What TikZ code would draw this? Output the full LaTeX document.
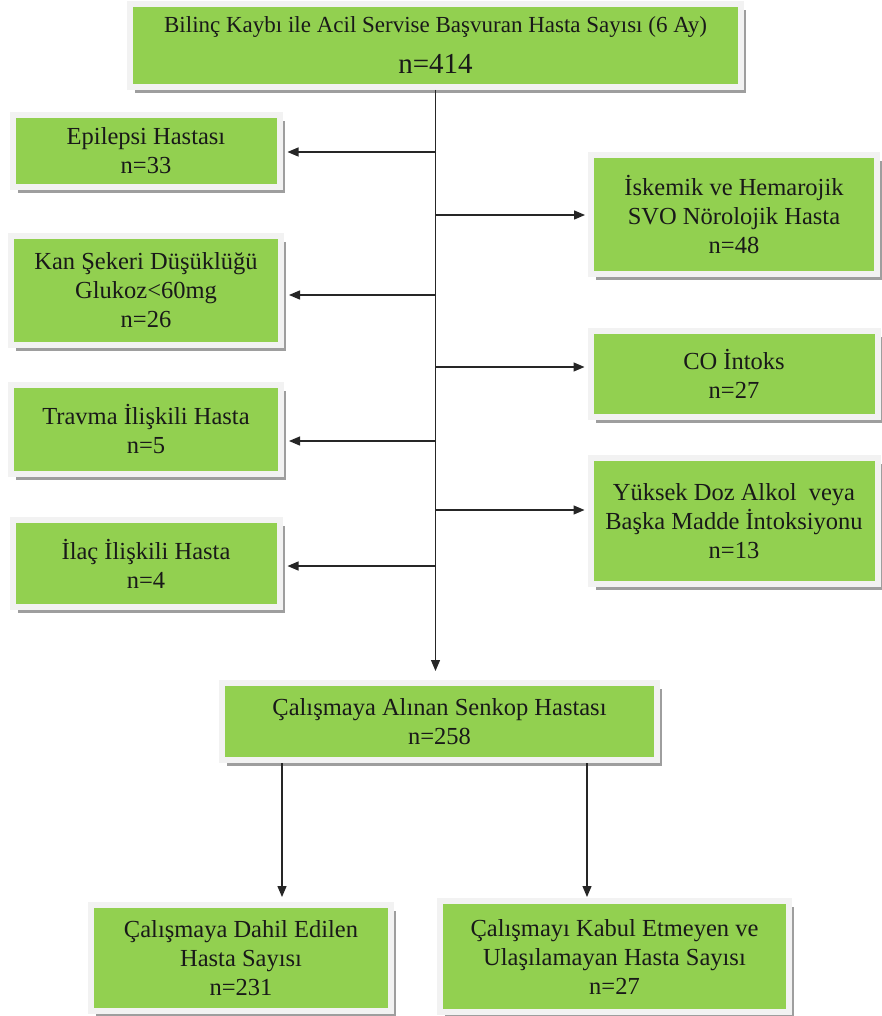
\documentclass[tikz,border=0pt]{standalone}
\usepackage{fontspec}
\setmainfont{Liberation Serif}
\usetikzlibrary{%
  positioning
 ,arrows.meta
 ,shadows
}
\definecolor{boxgreen}{HTML}{92D050}
\definecolor{boxrim}{HTML}{F2F2F2}
\tikzstyle{flow}=[x=1pt,y=-1pt,on grid,node distance=100pt]
\tikzstyle{box}=[rectangle,draw=boxrim,line width=6pt,fill=boxgreen,align=center,inner sep=2pt,
  text=black!90,font=\fontsize{24.5}{29}\selectfont,
  drop shadow={shadow xshift=5pt,shadow yshift=-6pt,fill=black!38,opacity=1}]
\tikzstyle{arr}=[-{Triangle[length=11pt,width=9pt]},line width=1.3pt,draw=black!85]

\begin{document}
\begin{tikzpicture}[flow]
      \useasboundingbox (0,0) rectangle (881,1016);
      \node[box,minimum width=611pt,minimum height=83pt,font=\fontsize{23}{28}\selectfont] (top) at (435.5,45.5)
        {Bilinç Kaybı ile Acil Servise Başvuran Hasta Sayısı (6 Ay)\\[13pt]{\fontsize{29}{30}\selectfont n=414}};
      % left column
      \node[box,minimum width=267pt,minimum height=72pt] (epi) [below left=105.5pt and 289.5pt of top]
        {Epilepsi Hastası\\n=33};
      \node[box,minimum width=270pt,minimum height=109pt] (kan) [below=139.5pt of epi]
        {Kan Şekeri Düşüklüğü\\Glukoz<60mg\\n=26};
      \node[box,minimum width=270pt,minimum height=89pt] (trav) [below=139pt of kan]
        {Travma İlişkili Hasta\\n=5};
      \node[box,minimum width=267pt,minimum height=87pt] (ilac) [below=134pt of trav]
        {İlaç İlişkili Hasta\\n=4};
      % right column
      \node[box,minimum width=286pt,minimum height=119pt] (isk) [below right=169pt and 298.5pt of top]
        {İskemik ve Hemarojik\\SVO Nörolojik Hasta\\n=48};
      \node[box,minimum width=287pt,minimum height=86pt] (co) [below=159.5pt of isk]
        {CO İntoks\\n=27};
      \node[box,minimum width=287pt,minimum height=126pt] (yuk) [below=147pt of co]
        {Yüksek Doz Alkol\ \ veya\\Başka Madde İntoksiyonu\\n=13};
      % bottom
      \node[box,minimum width=435pt,minimum height=77pt] (alinan) [below=676pt of top,xshift=4pt]
        {Çalışmaya Alınan Senkop Hastası\\n=258};
      \node[box,minimum width=300pt,minimum height=106pt] (dahil) [below left=236.5pt and 198.5pt of alinan]
        {Çalışmaya Dahil Edilen\\Hasta Sayısı\\n=231};
      \node[box,minimum width=349pt,minimum height=111pt] (kabul) [below right=235pt and 175pt of alinan]
        {Çalışmayı Kabul Etmeyen ve\\Ulaşılamayan Hasta Sayısı\\n=27};

      \coordinate (j1) at (436,152);
      \coordinate (j2) at (436,215);
      \coordinate (j3) at (436,295);
      \coordinate (j4) at (436,367);
      \coordinate (j5) at (436,441);
      \coordinate (j6) at (436,510);
      \coordinate (j7) at (436,566);
      \coordinate (b1) at ([xshift=-157.5pt]alinan.south);
      \coordinate (b2) at ([xshift=147.5pt]alinan.south);

      \draw[arr,shorten >=9pt] (top.south) -- (top.south |- alinan.north);
      \path
        (j1) edge[arr,shorten >=5pt] (j1 -| epi.east)
        (j3) edge[arr,shorten >=5pt] (j3 -| kan.east)
        (j5) edge[arr,shorten >=5pt] (j5 -| trav.east)
        (j7) edge[arr,shorten >=5pt] (j7 -| ilac.east);
      \path
        (j2) edge[arr,shorten >=3pt] (j2 -| isk.west)
        (j4) edge[arr,shorten >=3pt] (j4 -| co.west)
        (j6) edge[arr,shorten >=3pt] (j6 -| yuk.west);
      \draw[arr,shorten >=5pt] (b1) -- (b1 |- dahil.north);
      \draw[arr,shorten >=1pt] (b2) -- (b2 |- kabul.north);
    \end{tikzpicture}
\end{document}
